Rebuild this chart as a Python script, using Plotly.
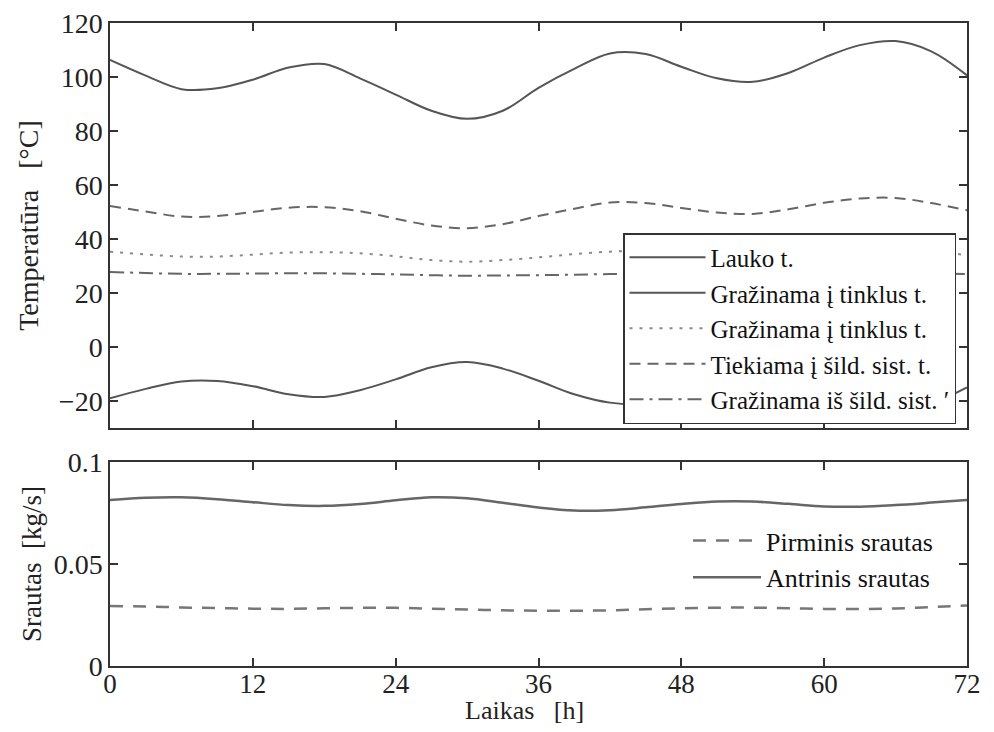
import plotly.graph_objects as go

# ---- data ----
hours = [0, 3, 6, 9, 12, 15, 18, 21, 24, 27, 30, 33, 36, 39, 42, 45, 48, 51, 54, 57, 60, 63, 66, 69, 72]

lauko_t = [-19, -15.5, -12.8, -12.6, -14.5, -17.5, -18.5, -16, -12, -7.5, -5.6, -8, -12.5,
           -17.5, -20.6, -21, -18.5, -14.5, -12.5, -14.5, -19, -23, -24, -21, -15]
tiekiama_tinklus_t = [106.3, 100.5, 95.5, 95.8, 99, 103.5, 104.8, 99.5, 93.5, 87.5, 84.5, 87.5, 96,
                      103, 108.7, 108.5, 103.8, 99.5, 98.2, 101.5, 107.2, 111.8, 113.3, 109.5, 100.6]
grazinama_tinklus_t = [35.3, 34.3, 33.5, 33.5, 34.2, 35, 35.1, 34.7, 33.6, 32.2, 31.6, 32.2, 33.2,
                       34.4, 35.3, 35.5, 34.5, 33.5, 33.3, 34, 35.2, 36, 36.2, 35.5, 34]
tiekiama_sild_t = [52.2, 50.2, 48.3, 48.5, 50, 51.6, 51.8, 50.3, 47.5, 45, 44, 45.5, 48.5,
                   51.2, 53.5, 53.3, 51.5, 49.8, 49.3, 51, 53.4, 55, 55.2, 53.3, 50.6]
grazinama_sild_t = [27.8, 27.4, 27.1, 27.1, 27.2, 27.3, 27.3, 27.1, 26.9, 26.6, 26.4, 26.5, 26.6,
                    26.8, 27, 27.1, 27, 26.8, 26.7, 26.9, 27.1, 27.3, 27.4, 27.2, 27]

pirminis = [0.0294, 0.0292, 0.0287, 0.0284, 0.0281, 0.0280, 0.0283, 0.0285, 0.0285, 0.0281, 0.0277,
            0.0273, 0.0271, 0.0271, 0.0273, 0.0278, 0.0283, 0.0286, 0.0286, 0.0283, 0.0280, 0.0279,
            0.0282, 0.0289, 0.0296]
antrinis = [0.0814, 0.0825, 0.0827, 0.0818, 0.0803, 0.0789, 0.0785, 0.0794, 0.0812, 0.0827, 0.0822,
            0.0800, 0.0777, 0.0762, 0.0764, 0.0778, 0.0794, 0.0806, 0.0806, 0.0795, 0.0782, 0.0781,
            0.0789, 0.0801, 0.0814]

x_ticks = [0, 12, 24, 36, 48, 60, 72]
temp_ticks = [-20, 0, 20, 40, 60, 80, 100, 120]
flow_ticks = [0, 0.05, 0.1]
flow_tick_text = ["0", "0.05", "0.1"]

names_top = ["Lauko t.", "Gražinama į tinklus t.", "Gražinama į tinklus t.",
             "Tiekiama į šild. sist. t.", "Gražinama iš šild. sist. ′"]
names_bottom = ["Pirminis srautas", "Antrinis srautas"]

# ---- styling ----
FONT = "Liberation Serif, Times New Roman, Times, serif"
LINE = "#555555"
AX = "#333333"
TXT = "#222222"

fig = go.Figure()

top_series = [lauko_t, tiekiama_tinklus_t, grazinama_tinklus_t, tiekiama_sild_t, grazinama_sild_t]
top_dash = ["solid", "solid", "3px,7px", "11px,7px", "14px,6px,3px,6px"]
top_color = [LINE, LINE, "#8a8a8a", "#666666", "#666666"]
for i, (vals, nm, ds, c) in enumerate(zip(top_series, names_top, top_dash, top_color)):
    fig.add_trace(go.Scatter(
        x=hours, y=vals, name=nm, mode="lines",
        line=dict(color=c, width=2, dash=ds, shape="spline", smoothing=1),
        xaxis="x", yaxis="y", legend="legend",
    ))

fig.add_trace(go.Scatter(
    x=hours, y=pirminis, name=names_bottom[0], mode="lines",
    line=dict(color="#777777", width=2.5, dash="13px,10px", shape="spline", smoothing=1),
    xaxis="x2", yaxis="y2", legend="legend2",
))
fig.add_trace(go.Scatter(
    x=hours, y=antrinis, name=names_bottom[1], mode="lines",
    line=dict(color="#666666", width=2.5, shape="spline", smoothing=1),
    xaxis="x2", yaxis="y2", legend="legend2",
))

axis_common = dict(
    showline=True, linecolor=AX, linewidth=1.5, mirror="allticks",
    ticks="inside", ticklen=8, tickwidth=1.5, tickcolor=AX,
    showgrid=False, zeroline=False, automargin=False, ticklabeloverflow="allow",
    tickfont=dict(family=FONT, size=28, color=TXT),
)

# the page body has an 8px margin, so the figure is drawn 8px in from the top-left
OFF = 8
W, H = 994 - 2 * OFF, 732 - 2 * OFF
# reference plot box (in screenshot pixels): left 110, right 967, top 23, bottom 666
ML = 110 - OFF
MT = 23 - OFF
MR = W - (967 - OFF)
MB = H - (666 - OFF)
ph = H - MT - MB
pw = W - ML - MR

def fy(py):  # screenshot pixel y -> paper fraction
    return (H - MB - (py - OFF)) / ph

def fx(px):
    return ((px - OFF) - ML) / pw

nb = "\u00a0"
fig.update_layout(
    width=W, height=H,
    margin=dict(l=ML, r=MR, t=MT, b=MB, autoexpand=False),
    paper_bgcolor="white", plot_bgcolor="white",
    font=dict(family=FONT, color="#111111"),
    xaxis=dict(axis_common, domain=[0, 1], range=[0, 72], tickvals=x_ticks,
               showticklabels=False, anchor="y", matches="x2"),
    yaxis=dict(axis_common, domain=[fy(428), 1], range=[-30, 120], tickvals=temp_ticks,
               anchor="x",
               title=dict(text="Temperatūra" + nb * 3 + "[°C]",
                          font=dict(family=FONT, size=28, color=TXT), standoff=12)),
    xaxis2=dict(axis_common, domain=[0, 1], range=[0, 72], tickvals=x_ticks, anchor="y2",
                ticklabelstandoff=-7, tickfont=dict(family=FONT, size=27, color=TXT)),
    yaxis2=dict(axis_common, domain=[0, fy(462)], range=[0, 0.1], tickvals=flow_ticks,
                ticktext=flow_tick_text, anchor="x2",
                title=dict(text="Srautas" + nb * 2 + "[kg/s]",
                           font=dict(family=FONT, size=27, color=TXT), standoff=4)),
    annotations=[dict(
        text="Laikas" + nb * 3 + "[h]", xref="paper", yref="paper",
        x=fx(524), y=fy(710), xanchor="center", yanchor="middle", showarrow=False,
        font=dict(family=FONT, size=26, color=TXT),
    )],
    legend=dict(
        x=fx(623), y=fy(233), xanchor="left", yanchor="top",
        bgcolor="white", bordercolor=AX, borderwidth=1.5,
        font=dict(family=FONT, size=25, color="#111111"),
        traceorder="normal", itemwidth=76,
    ),
    legend2=dict(
        x=fx(688), y=fy(517), xanchor="left", yanchor="top",
        bgcolor="rgba(0,0,0,0)", borderwidth=0,
        font=dict(family=FONT, size=26, color="#111111"),
        itemwidth=68,
    ),
    showlegend=True,
)

fig.write_html("out.html")
